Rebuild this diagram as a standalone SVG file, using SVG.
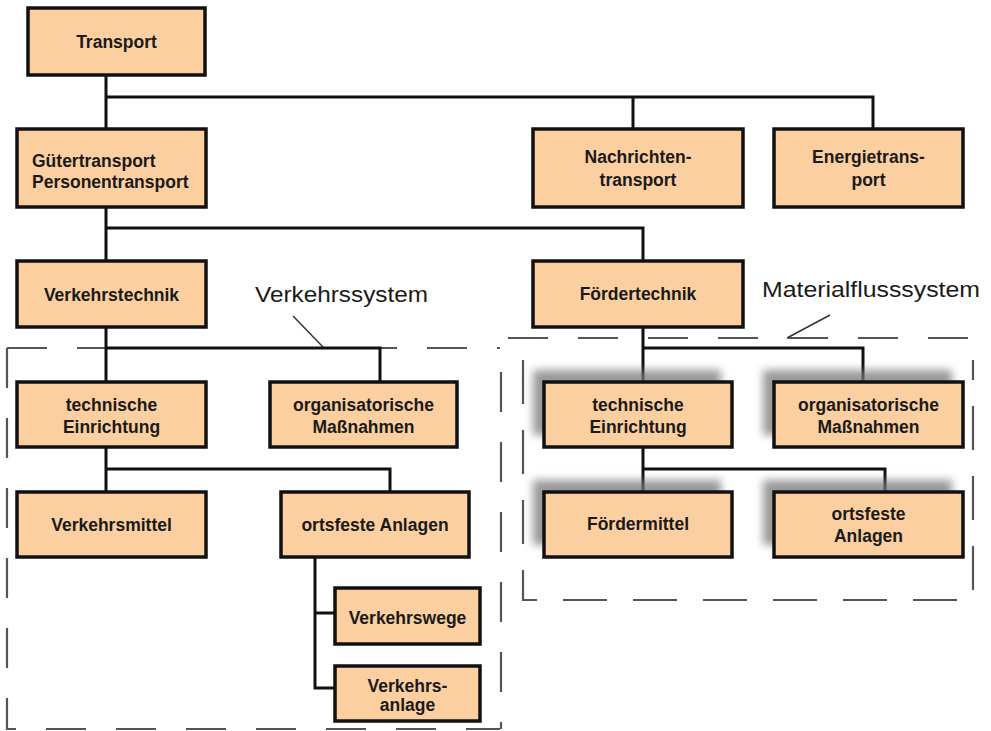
<svg xmlns="http://www.w3.org/2000/svg" width="991" height="731" viewBox="0 0 991 731">
<defs>
<style>
.box{fill:#fccfa0;stroke:#111;stroke-width:3.5}
.t{font-family:"Liberation Sans",Arial,sans-serif;font-weight:bold;font-size:17.5px;fill:#1a1a1a;text-anchor:middle}
.tl{text-anchor:start}
.lab{font-family:"Liberation Sans",Arial,sans-serif;font-size:22px;fill:#1a1a1a}
.con{fill:none;stroke:#111;stroke-width:3}
.dash{fill:none;stroke:#555;stroke-width:2.2;stroke-dasharray:40 30}
.call{fill:none;stroke:#333;stroke-width:1.5}
.sh{fill:#777;opacity:0.75;filter:url(#blur)}
</style>
<filter id="blur" x="-20%" y="-40%" width="140%" height="180%"><feGaussianBlur stdDeviation="4"/></filter>
</defs>
<rect width="991" height="731" fill="#fff"/>
<g id="regions">
<path class="dash" d="M7,348 H500 M7,348 V729 H500 M501,372 V729"/>
<path class="dash" d="M508,338 H986"/>
<path class="dash" d="M523,360 V600 H973 V360" style="stroke-dasharray:44 26"/>
<path class="call" d="M293,316 L323,347"/>
<path class="call" d="M830,315 L787,338"/>
<text class="lab" x="255" y="302" textLength="173" lengthAdjust="spacingAndGlyphs">Verkehrssystem</text>
<text class="lab" x="762" y="297" textLength="218" lengthAdjust="spacingAndGlyphs">Materialflusssystem</text>
</g>
<g id="connectors">
<path class="con" d="M106,75 V129 M106,97 H873 V129 M633,97 V129"/>
<path class="con" d="M106,207 V261 M106,228 H643 V261"/>
<path class="con" d="M106,327 V382 M106,348 H380 V382"/>
<path class="con" d="M106,447 V492 M106,469 H390 V492"/>
<path class="con" d="M315,557 V688 H335 M315,613 H335"/>
<path class="con" d="M643,327 V382 M643,348 H863 V382"/>
<path class="con" d="M643,447 V492 M643,469 H885 V492"/>
</g>
<g id="shadows">
<rect class="sh" x="533" y="370" width="188" height="65"/>
<rect class="sh" x="763" y="370" width="189" height="65"/>
<rect class="sh" x="533" y="480" width="188" height="65"/>
<rect class="sh" x="763" y="480" width="189" height="65"/>
</g>
<g id="n-transport"><rect class="box" x="28" y="8" width="177" height="67"/><text class="t" x="116.5" y="48">Transport</text></g>
<g id="n-gueter"><rect class="box" x="17" y="129" width="189" height="78"/><text class="t tl" x="32" y="167">Gütertransport</text><text class="t tl" x="32" y="188">Personentransport</text></g>
<g id="n-nachrichten"><rect class="box" x="533" y="129" width="210" height="78"/><text class="t" x="638" y="163">Nachrichten-</text><text class="t" x="638" y="186">transport</text></g>
<g id="n-energie"><rect class="box" x="774" y="129" width="189" height="78"/><text class="t" x="868.5" y="163">Energietrans-</text><text class="t" x="868.5" y="186">port</text></g>
<g id="n-verkehrstechnik"><rect class="box" x="17" y="261" width="189" height="66"/><text class="t" x="111.5" y="301">Verkehrstechnik</text></g>
<g id="n-foerdertechnik"><rect class="box" x="533" y="261" width="210" height="66"/><text class="t" x="638" y="300">Fördertechnik</text></g>
<g id="n-tech-l"><rect class="box" x="17" y="382" width="189" height="65"/><text class="t" x="111.5" y="411">technische</text><text class="t" x="111.5" y="433">Einrichtung</text></g>
<g id="n-org-l"><rect class="box" x="270" y="382" width="187" height="65"/><text class="t" x="363.5" y="411">organisatorische</text><text class="t" x="363.5" y="433">Maßnahmen</text></g>
<g id="n-verkehrsmittel"><rect class="box" x="17" y="492" width="189" height="65"/><text class="t" x="111.5" y="531">Verkehrsmittel</text></g>
<g id="n-ortsfeste-l"><rect class="box" x="281" y="492" width="188" height="65"/><text class="t" x="375" y="531">ortsfeste Anlagen</text></g>
<g id="n-verkehrswege"><rect class="box" x="335" y="588" width="145" height="56"/><text class="t" x="407.5" y="624">Verkehrswege</text></g>
<g id="n-verkehrsanlage"><rect class="box" x="335" y="666" width="145" height="55"/><text class="t" x="407.5" y="692">Verkehrs-</text><text class="t" x="407.5" y="711">anlage</text></g>
<g id="n-tech-r"><rect class="box" x="544" y="382" width="188" height="65"/><text class="t" x="638" y="411">technische</text><text class="t" x="638" y="433">Einrichtung</text></g>
<g id="n-org-r"><rect class="box" x="774" y="382" width="189" height="65"/><text class="t" x="868.5" y="411">organisatorische</text><text class="t" x="868.5" y="433">Maßnahmen</text></g>
<g id="n-foerdermittel"><rect class="box" x="544" y="492" width="188" height="65"/><text class="t" x="638" y="530">Fördermittel</text></g>
<g id="n-ortsfeste-r"><rect class="box" x="774" y="492" width="189" height="65"/><text class="t" x="868.5" y="520">ortsfeste</text><text class="t" x="868.5" y="542">Anlagen</text></g>
</svg>
